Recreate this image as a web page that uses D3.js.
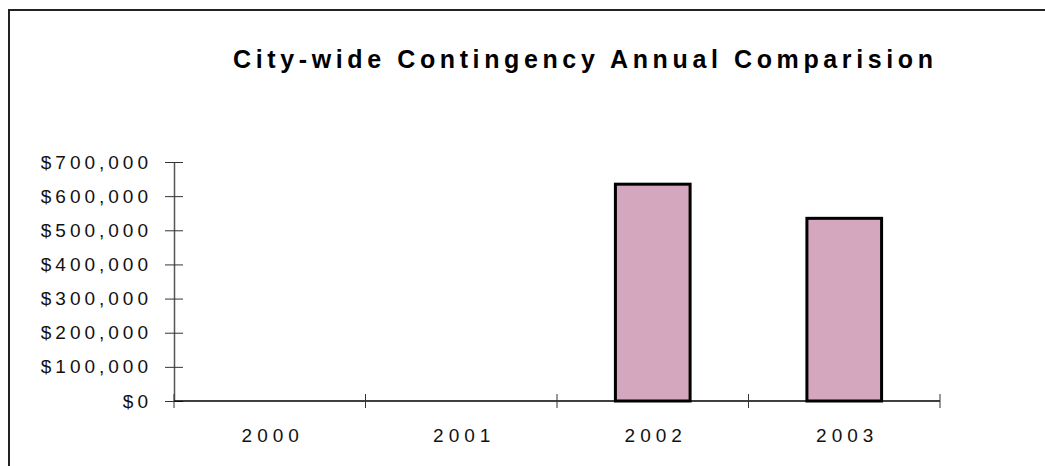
<!DOCTYPE html>
<html>
<head>
<meta charset="utf-8">
<script src="https://cdn.jsdelivr.net/npm/d3@7"></script>
<style>
  html, body { margin: 0; padding: 0; background: #fff; }
  svg { display: block; font-family: "Liberation Sans", Arial, sans-serif; }
</style>
</head>
<body>
<div id="chart"></div>
<script>
// Data
const years = ['2000', '2001', '2002', '2003'];
const amounts = [0, 0, 635000, 535000];
const yTicks = [0, 100000, 200000, 300000, 400000, 500000, 600000, 700000];
const title = 'City-wide Contingency Annual Comparision';

const width = 1045;
const height = 466;
const plot = { l: 174, r: 940, t: 162, b: 401 };

const svg = d3
  .select('#chart')
  .append('svg')
  .attr('width', width)
  .attr('height', height);

// outer frame (runs off the right / bottom of the picture)
svg
  .append('rect')
  .attr('x', 9)
  .attr('y', 10)
  .attr('width', width + 50)
  .attr('height', height + 50)
  .attr('fill', 'none')
  .attr('stroke', '#222')
  .attr('stroke-width', 2);

// title
svg
  .append('text')
  .attr('x', 583)
  .attr('y', 68)
  .attr('text-anchor', 'middle')
  .attr('textLength', 700)
  .attr('lengthAdjust', 'spacing')
  .style('font-size', '25px')
  .style('font-weight', 'bold')
  .text(title);

const xScale = d3.scaleBand(years, [plot.l, plot.r]).padding(0);
const yScale = d3.scaleLinear([0, 700000], [plot.b, plot.t]);

const fmt = (v) => '$' + d3.format(',')(v);

// y axis
const yAxis = d3.axisLeft(yScale).tickValues(yTicks).tickFormat(fmt).tickSize(9).tickSizeOuter(0);
const gy = svg
  .append('g')
  .attr('transform', `translate(${plot.l},0)`)
  .call(yAxis);
gy.select('.domain').attr('stroke', '#555').attr('stroke-width', 1.5);
gy.selectAll('.tick line').attr('x1', 9).attr('stroke', '#333');
gy.selectAll('.tick text')
  .attr('x', -22)
  .style('font-size', '19px')
  .style('letter-spacing', '4px')
  .attr('fill', '#111');

// bars
const barW = xScale.bandwidth() * 0.39;
svg
  .append('g')
  .selectAll('rect')
  .data(years.map((y, i) => ({ year: y, value: amounts[i] })).filter((d) => d.value > 0))
  .join('rect')
  .attr('x', (d) => xScale(d.year) + (xScale.bandwidth() - barW) / 2)
  .attr('y', (d) => yScale(d.value))
  .attr('width', barW)
  .attr('height', (d) => yScale(0) - yScale(d.value))
  .attr('fill', '#d5a7bf')
  .attr('stroke', '#000')
  .attr('stroke-width', 3);

// x axis: line + ticks on category boundaries
const gx = svg.append('g').attr('transform', `translate(0,${plot.b})`);
gx.append('line')
  .attr('x1', plot.l)
  .attr('x2', plot.r)
  .attr('stroke', '#000')
  .attr('stroke-width', 1.5);
const bounds = years.map((y) => xScale(y)).concat([xScale.range()[1]]);
gx.selectAll('.btick')
  .data(bounds)
  .join('line')
  .attr('class', 'btick')
  .attr('x1', (d) => d)
  .attr('x2', (d) => d)
  .attr('y1', -7)
  .attr('y2', 7)
  .attr('stroke', '#333');
gx.selectAll('.xlab')
  .data(years)
  .join('text')
  .attr('class', 'xlab')
  .attr('x', (d) => xScale(d) + xScale.bandwidth() / 2 + 3)
  .attr('y', 41)
  .attr('text-anchor', 'middle')
  .style('font-size', '19px')
  .style('letter-spacing', '5px')
  .attr('fill', '#111')
  .text((d) => d);
</script>
</body>
</html>
